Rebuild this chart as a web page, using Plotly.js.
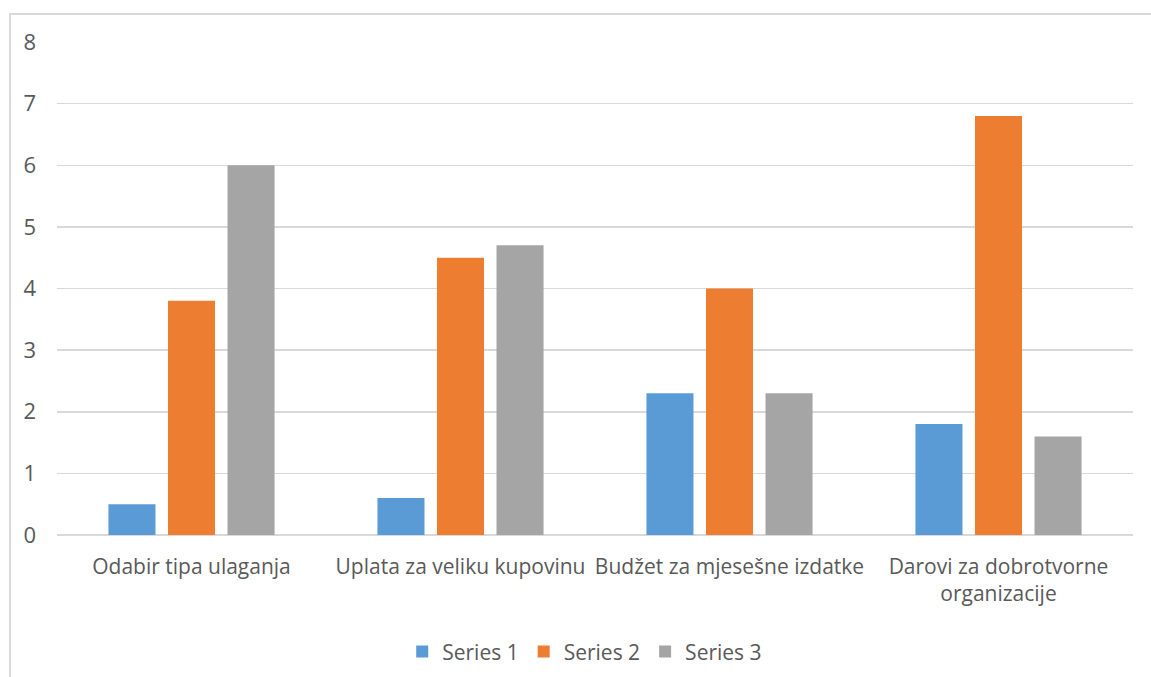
<!DOCTYPE html>
<html><head><meta charset="utf-8">
<script src="https://cdn.plot.ly/plotly-3.0.1.min.js"></script>
<style>
html,body{margin:0;padding:0;background:#fff;overflow:hidden;}
#wrap{position:relative;width:1151px;height:677px;}
#chart{position:absolute;left:0;top:0;width:1151px;height:677px;}
#frame{position:absolute;left:9px;top:13px;width:1160px;height:700px;border-left:2px solid #d9d9d9;border-top:2px solid #d9d9d9;pointer-events:none;}
</style></head>
<body><div id="wrap"><div id="chart"></div><div id="frame"></div></div>
<script>
const categories = ["Odabir tipa ulaganja","Uplata za veliku kupovinu","Budžet za mjesešne izdatke","Darovi za dobrotvorne<br>organizacije"];
const seriesNames = ["Series 1","Series 2","Series 3"];
const series1 = [0.5, 0.6, 2.3, 1.8];
const series2 = [3.8, 4.5, 4.0, 6.8];
const series3 = [6.0, 4.7, 2.3, 1.6];
const yTicks = [0,1,2,3,4,5,6,7,8];
const colors = ["#5b9bd5","#ed7d31","#a5a5a5"];
const font = "'Open Sans', sans-serif";
const data = [series1, series2, series3].map((v,i)=>({
  type:'bar', x:categories, y:v, name:seriesNames[i], marker:{color:colors[i]}
}));
const layout = {
  width:1151, height:677,
  margin:{l:57, r:18, t:42, b:142},
  paper_bgcolor:'rgba(0,0,0,0)', plot_bgcolor:'#fff',
  barmode:'group', bargap:0.336, bargroupgap:0.21,
  font:{family:font, color:'#595959', size:21},
  xaxis:{tickfont:{size:21, color:'#595959'}, showline:false, showgrid:false, ticks:'', automargin:false, ticklabelstandoff:17},
  yaxis:{range:[0,8], tickvals:yTicks, showgrid:true, gridcolor:'#d9d9d9', gridwidth:1.5,
         zeroline:true, zerolinecolor:'#d9d9d9', zerolinewidth:1.5,
         tickfont:{size:22, color:'#595959'}, ticks:'', ticklabelstandoff:20, automargin:false},
  showlegend:true,
  legend:{orientation:'h', xref:'container', yref:'container', x:0.508, xanchor:'center', y:0.037, yanchor:'middle',
          font:{size:21, color:'#595959'}, itemwidth:30, traceorder:'normal'}
};
Plotly.newPlot('chart', data, layout, {displayModeBar:false, staticPlot:true});
</script></body></html>
